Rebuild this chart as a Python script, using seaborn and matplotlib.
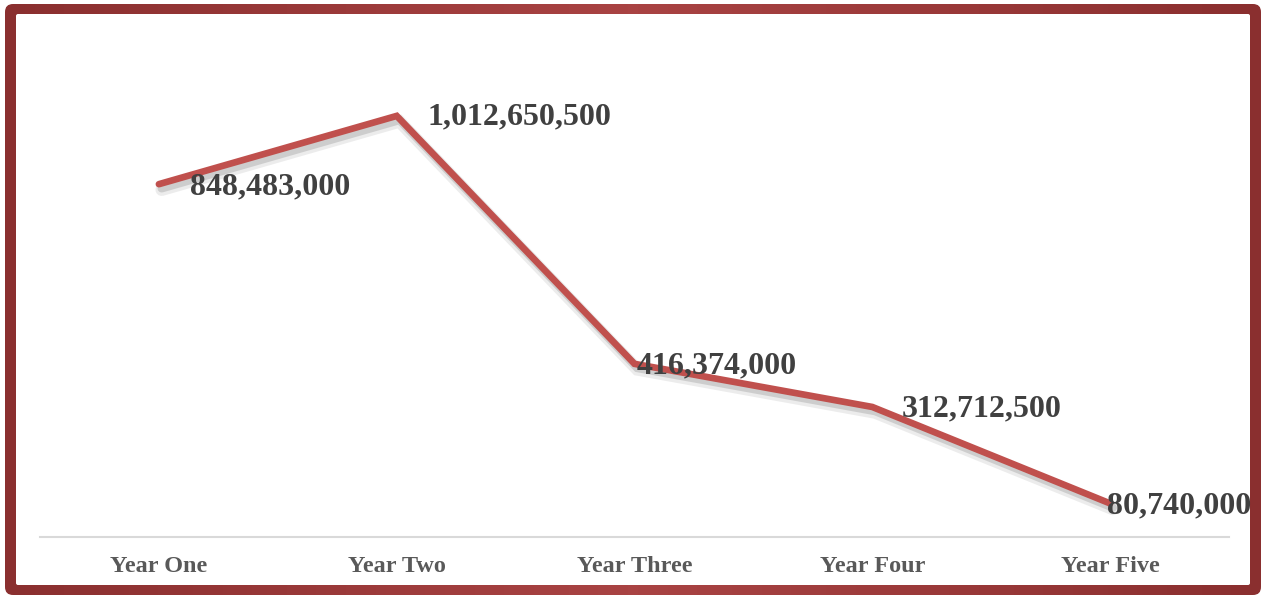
import numpy as np
import pandas as pd
import seaborn as sns
import matplotlib
matplotlib.use("Agg")
import matplotlib.pyplot as plt
import matplotlib.patheffects as pe
from matplotlib.patches import FancyBboxPatch
from matplotlib.colors import LinearSegmentedColormap

years = ["Year One", "Year Two", "Year Three", "Year Four", "Year Five"]
values = [848483000, 1012650500, 416374000, 312712500, 80740000]
labels = ["848,483,000", "1,012,650,500", "416,374,000", "312,712,500", "80,740,000"]

df = pd.DataFrame({"year": years, "value": values})

sns.set_theme(style="white")
plt.rcParams["font.family"] = ["Liberation Serif", "DejaVu Serif"]

W, H = 1266, 599
fig = plt.figure(figsize=(W / 100, H / 100), dpi=100)

# frame background
bg = fig.add_axes([0, 0, 1, 1])
bg.set_xlim(0, W)
bg.set_ylim(H, 0)
bg.axis("off")
grad = np.linspace(0, 1, 256)
grad = 1 - np.abs(grad - 0.5) * 2
grad = np.tile(grad, (10, 1))
cmap = LinearSegmentedColormap.from_list("fr", ["#8A2F2F", "#A94343"])
outer = FancyBboxPatch((5, 4), W - 10, H - 8, boxstyle="round,pad=0,rounding_size=8",
                       transform=bg.transData, facecolor="none", edgecolor="none")
bg.add_patch(outer)
im = bg.imshow(grad, cmap=cmap, extent=(0, W, H, 0), aspect="auto", zorder=0)
im.set_clip_path(outer)
inner = FancyBboxPatch((16, 14), 1250 - 16, 585 - 14, boxstyle="round,pad=0,rounding_size=2",
                       facecolor="white", edgecolor="none", zorder=1)
bg.add_patch(inner)

# plot axes
left = 40 / W
right = 1229 / W
bottom = (H - 537) / H
top = (H - 38) / H
ax = fig.add_axes([left, bottom, right - left, top - bottom])
ax.patch.set_alpha(0)

sns.lineplot(data=df, x="year", y="value", ax=ax, color="#C0504D", linewidth=4.8,
             sort=False, solid_capstyle="round", solid_joinstyle="miter",
             path_effects=[pe.SimpleLineShadow(offset=(2, -4), shadow_color="#666666", alpha=0.12, linewidth=9),
                           pe.SimpleLineShadow(offset=(2, -3), shadow_color="#555555", alpha=0.2, linewidth=6),
                           pe.Normal()])

ax.set_xlim(-0.5, len(years) - 0.5)
ax.set_ylim(0, 1.2e9)
ax.set_xlabel("")
ax.set_ylabel("")
ax.set_yticks([])
for s in ["top", "right", "left"]:
    ax.spines[s].set_visible(False)
ax.spines["bottom"].set_color("#D9D9D9")
ax.spines["bottom"].set_linewidth(1.5)
ax.tick_params(axis="x", length=0, pad=14, labelsize=17.5, labelcolor="#595959")
for t in ax.get_xticklabels():
    t.set_fontweight("bold")

offsets = [(31, -3), (31, -1), (2, -2), (29, -2), (-3, -2)]
for i, (v, lab) in enumerate(zip(values, labels)):
    ax.annotate(lab, (i, v), xytext=offsets[i], textcoords="offset pixels",
                ha="left", va="center", fontsize=23, fontweight="bold",
                color="#404040")

fig.savefig("out.png", dpi=100)
